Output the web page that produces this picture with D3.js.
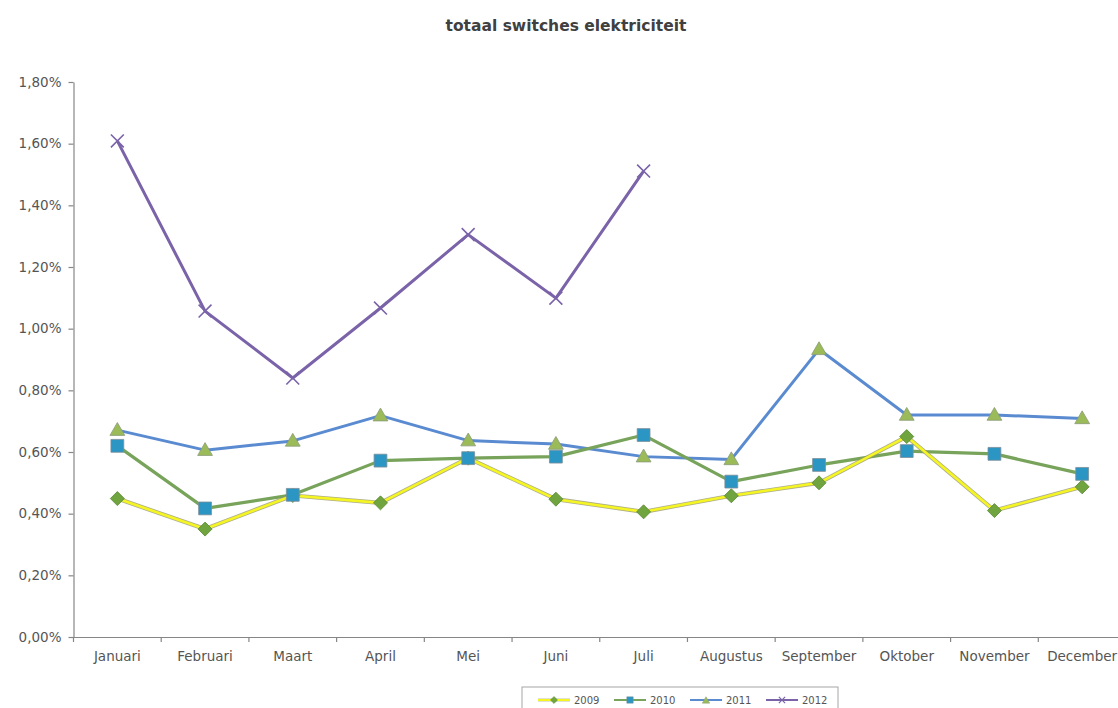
<!DOCTYPE html>
<html>
<head>
<meta charset="utf-8">
<script src="https://d3js.org/d3.v7.min.js"></script>
<style>
  html, body { margin: 0; padding: 0; background: #ffffff; }
  svg { display: block; font-family: "DejaVu Sans", Verdana, sans-serif; }
</style>
</head>
<body>
<svg id="chart" width="1118" height="708"></svg>
<script>
// ---- data ----
const title = "totaal switches elektriciteit";
const months = ["Januari","Februari","Maart","April","Mei","Juni","Juli","Augustus","September","Oktober","November","December"];
const years = ["2009","2010","2011","2012"];
const values2009 = [0.449, 0.350, 0.459, 0.435, 0.580, 0.447, 0.406, 0.458, 0.500, 0.650, 0.410, 0.487];
const values2010 = [0.620, 0.417, 0.461, 0.572, 0.580, 0.585, 0.655, 0.504, 0.558, 0.603, 0.594, 0.529];
const values2011 = [0.671, 0.606, 0.636, 0.718, 0.637, 0.626, 0.585, 0.576, 0.933, 0.720, 0.720, 0.709];
const values2012 = [1.609, 1.057, 0.840, 1.067, 1.305, 1.099, 1.511, null, null, null, null, null];
const yTicks = [0, 0.2, 0.4, 0.6, 0.8, 1.0, 1.2, 1.4, 1.6, 1.8];

(function () {
// ---- styles ----
const styles = {
  "2009": { line: "#f5f523", outline: "#9a9a6e", width: 2.6, marker: "diamond", fill: "#6fa43f", stroke: "#5c8a36" },
  "2010": { line: "#78a35a", outline: null, width: 3.2, marker: "square", fill: "#2b95c4", stroke: "#7d8f99" },
  "2011": { line: "#5a8bd1", outline: null, width: 3.0, marker: "triangle", fill: "#9bbb59", stroke: "#8a9a78" },
  "2012": { line: "#7a63a8", outline: null, width: 3.0, marker: "x", fill: "none", stroke: "#7a63a8" }
};
const seriesValues = { "2009": values2009, "2010": values2010, "2011": values2011, "2012": values2012 };

const svg = d3.select("#chart");
const pLeft = 73.5, pRight = 1126, pTop = 82, pBottom = 637;

const x = d3.scaleBand().domain(months).range([pLeft, pRight]).paddingInner(0).paddingOuter(0);
const cx = m => x(m) + x.bandwidth() / 2;
const y = d3.scaleLinear().domain([0, 1.8]).range([pBottom, pTop]);

const nl = d3.formatLocale({ decimal: ",", thousands: ".", grouping: [3], currency: ["€", ""] });
const fmt = nl.format(".2%");

// title
svg.append("text")
  .attr("x", 566).attr("y", 31)
  .attr("text-anchor", "middle")
  .attr("font-size", 15.5).attr("font-weight", "bold")
  .attr("fill", "#404040")
  .text(title);

// y axis
const yAxis = d3.axisLeft(y).tickValues(yTicks).tickFormat(d => fmt(d / 100)).tickSize(5).tickSizeOuter(0).tickPadding(7);
const gy = svg.append("g").attr("transform", `translate(${pLeft},0)`).call(yAxis);
gy.select(".domain").attr("stroke", "#868686").attr("stroke-width", 1.2);
gy.selectAll(".tick line").attr("stroke", "#868686").attr("stroke-width", 1.2);
gy.selectAll(".tick text").attr("fill", "#555555").attr("font-size", 13.5).attr("font-family", "DejaVu Sans, Verdana, sans-serif");

// x axis (labels centered)
const xAxis = d3.axisBottom(x).tickSize(0).tickSizeOuter(0).tickPadding(14);
const gx = svg.append("g").attr("transform", `translate(0,${pBottom})`).call(xAxis);
gx.select(".domain").attr("stroke", "#868686").attr("stroke-width", 1.2);
gx.selectAll(".tick text").attr("fill", "#555555").attr("font-size", 13.5).attr("font-family", "DejaVu Sans, Verdana, sans-serif");
// boundary ticks
const bounds = months.map(m => x(m)).concat([x(months[months.length - 1]) + x.bandwidth()]);
gx.selectAll(".bound").data(bounds).enter().append("line")
  .attr("class", "bound")
  .attr("x1", d => d).attr("x2", d => d)
  .attr("y1", 0).attr("y2", 5)
  .attr("stroke", "#868686").attr("stroke-width", 1.2);

// lines
const lineGen = d3.line()
  .defined(d => d.v !== null)
  .x(d => cx(d.m))
  .y(d => y(d.v));

const drawOrder = ["2012", "2011", "2010", "2009"];
drawOrder.forEach(yr => {
  const st = styles[yr];
  const data = months.map((m, i) => ({ m, v: seriesValues[yr][i] }));
  if (st.outline) {
    svg.append("path").datum(data).attr("d", lineGen)
      .attr("fill", "none").attr("stroke", st.outline).attr("stroke-width", st.width + 1.6)
      .attr("stroke-linejoin", "round").attr("opacity", 0.8);
  }
  svg.append("path").datum(data).attr("d", lineGen)
    .attr("fill", "none").attr("stroke", st.line).attr("stroke-width", st.width)
    .attr("stroke-linejoin", "round");
});

// markers
function markerPath(type, scale) {
  scale = scale || 1;
  if (type === "diamond") return d3.symbol().type(d3.symbolSquare).size(98 * scale * scale)();
  if (type === "square") return d3.symbol().type(d3.symbolSquare).size(165 * scale * scale)();
  if (type === "triangle") return d3.symbol().type(d3.symbolTriangle).size(95 * scale * scale)();
  if (type === "x") {
    if (d3.symbolX) return d3.symbol().type(d3.symbolX).size(110 * scale * scale)();
    return d3.symbol().type(d3.symbolCross).size(110 * scale * scale)();
  }
}
function markerTransform(type, px, py) {
  if (type === "diamond") return `translate(${px},${py}) rotate(45)`;
  if (type === "x" && !d3.symbolX) return `translate(${px},${py}) rotate(45)`;
  if (type === "triangle") return `translate(${px},${py + 1})`;
  return `translate(${px},${py})`;
}

["2009", "2010", "2011", "2012"].forEach(yr => {
  const st = styles[yr];
  const data = months.map((m, i) => ({ m, v: seriesValues[yr][i] })).filter(d => d.v !== null);
  svg.append("g").selectAll("path").data(data).enter().append("path")
    .attr("d", markerPath(st.marker))
    .attr("transform", d => markerTransform(st.marker, cx(d.m), y(d.v)))
    .attr("fill", st.fill)
    .attr("stroke", st.stroke)
    .attr("stroke-width", st.marker === "x" ? 1.6 : 0.8);
});

// legend
const lg = svg.append("g");
lg.append("rect").attr("x", 522).attr("y", 687).attr("width", 316).attr("height", 30)
  .attr("fill", "#ffffff").attr("stroke", "#a6a6a6").attr("stroke-width", 1);
years.forEach((yr, i) => {
  const st = styles[yr];
  const x0 = 538 + i * 76;
  const ly = 700;
  if (st.outline) {
    lg.append("line").attr("x1", x0).attr("x2", x0 + 32).attr("y1", ly).attr("y2", ly)
      .attr("stroke", st.outline).attr("stroke-width", 3).attr("opacity", 0.6);
  }
  lg.append("line").attr("x1", x0).attr("x2", x0 + 32).attr("y1", ly).attr("y2", ly)
    .attr("stroke", st.line).attr("stroke-width", 2);
  lg.append("path").attr("d", markerPath(st.marker, 0.5))
    .attr("transform", markerTransform(st.marker, x0 + 16, ly))
    .attr("fill", st.fill).attr("stroke", st.stroke).attr("stroke-width", st.marker === "x" ? 1.2 : 0.5);
  lg.append("text").attr("x", x0 + 36).attr("y", ly + 3.5)
    .attr("font-size", 10).attr("fill", "#555555").text(yr);
});
})();
</script>
</body>
</html>
